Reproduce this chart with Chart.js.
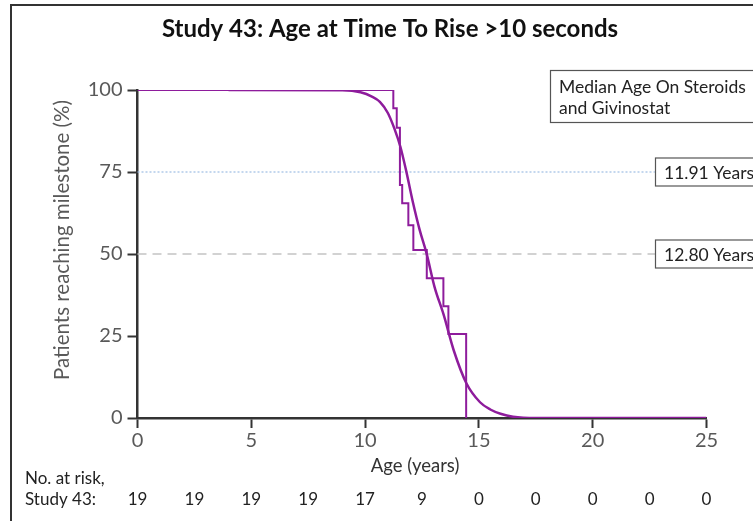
<!DOCTYPE html>
<html>
<head>
<meta charset="utf-8">
<script src="https://cdn.jsdelivr.net/npm/chart.js@4.4.0/dist/chart.umd.min.js"></script>
<style>
  html, body { margin: 0; padding: 0; background: #fff; }
  #wrap { width: 753px; height: 521px; }
</style>
</head>
<body>
<div id="wrap"><canvas id="km"></canvas></div>
<script>
// Kaplan-Meier steps (age in years, % reaching milestone)
const stepAge = [0, 11.24, 11.39, 11.53, 11.63, 11.90, 12.12, 12.71, 13.44, 13.66, 14.44];
const stepPct = [100, 94.4, 88.5, 71.0, 65.5, 58.8, 51.2, 42.6, 34.1, 25.6, 0];

// fitted curve
const curveAge = [4, 9, 9.8, 10.3, 10.65, 11.0, 11.3, 11.55, 11.8, 12.1, 12.4, 12.7, 13.05, 13.45, 13.9, 14.45, 15.05, 15.5, 15.95, 16.5, 17.5, 25];
const curvePct = [100, 99.9, 99.3, 98, 96.4, 93, 88, 82.7, 75.5, 65.8, 57.3, 50.2, 40, 31.5, 20.5, 10.6, 4.8, 2.6, 1.3, 0.4, 0, 0];

const medianPct = [75, 50];
const medianLabels = ["11.91 Years", "12.80 Years"];

const atRiskAge = [0, 2.5, 5, 7.5, 10, 12.5, 15, 17.5, 20, 22.5, 25];
const atRiskCount = [19, 19, 19, 19, 17, 9, 0, 0, 0, 0, 0];

const purple = "#8e1c9c";
const font = "Lato, 'Open Sans', sans-serif";

function pts(xs, ys) {
    let out = [];
    for (let i = 0; i < xs.length; i++) out.push({x: xs[i], y: ys[i]});
    return out;
}

const decor = {
    id: "decor",
    beforeDatasetsDraw(chart) {
        const ctx = chart.ctx;
        const area = chart.chartArea;
        const y = chart.scales.y;
        ctx.save();
        // median reference lines
        ctx.lineWidth = 1.2;
        ctx.strokeStyle = "#9dbde3";
        ctx.setLineDash([2, 2]);
        ctx.beginPath();
        ctx.moveTo(area.left, y.getPixelForValue(medianPct[0]));
        ctx.lineTo(655, y.getPixelForValue(medianPct[0]));
        ctx.stroke();
        ctx.strokeStyle = "#c4c4c4";
        ctx.lineWidth = 1.5;
        ctx.setLineDash([9, 6]);
        ctx.beginPath();
        ctx.moveTo(area.left, y.getPixelForValue(medianPct[1]));
        ctx.lineTo(655, y.getPixelForValue(medianPct[1]));
        ctx.stroke();
        ctx.restore();
    },
    afterDraw(chart) {
        const ctx = chart.ctx;
        const x = chart.scales.x;
        const y = chart.scales.y;
        ctx.save();
        // outer frame
        ctx.strokeStyle = "#333";
        ctx.lineWidth = 2;
        ctx.beginPath();
        ctx.moveTo(11, 530);
        ctx.lineTo(11, 5);
        ctx.lineTo(760, 5);
        ctx.stroke();

        // title
        ctx.fillStyle = "#111";
        ctx.font = "bold 24px " + font;
        ctx.textAlign = "center";
        ctx.textBaseline = "middle";
        ctx.fillText("Study 43: Age at Time To Rise >10 seconds", 390, 29);

        // axis titles
        ctx.fillStyle = "#595959";
        ctx.font = "20.5px " + font;
        ctx.save();
        ctx.translate(62, 240);
        ctx.rotate(-Math.PI / 2);
        ctx.fillText("Patients reaching milestone (%)", 0, 0);
        ctx.restore();
        ctx.fillStyle = "#333";
        ctx.font = "18.5px " + font;
        ctx.fillText("Age (years)", 415, 466);

        // legend box
        ctx.fillStyle = "#fff";
        ctx.fillRect(550, 70, 220, 52);
        ctx.strokeStyle = "#555";
        ctx.lineWidth = 1.2;
        ctx.strokeRect(550.5, 70.5, 220, 52);
        ctx.fillStyle = "#222";
        ctx.font = "17.5px " + font;
        ctx.textAlign = "left";
        ctx.fillText("Median Age On Steroids", 559, 87);
        ctx.fillText("and Givinostat", 559, 108);

        // median boxes
        for (let i = 0; i < medianPct.length; i++) {
            const cy = y.getPixelForValue(medianPct[i]);
            ctx.fillStyle = "#fff";
            ctx.fillRect(655, cy - 14, 110, 28);
            ctx.strokeStyle = "#555";
            ctx.strokeRect(655.5, cy - 14, 110, 28);
            ctx.fillStyle = "#222";
            ctx.fillText(medianLabels[i], 664, cy + 1);
        }

        // number at risk
        ctx.fillStyle = "#222";
        ctx.font = "17px " + font;
        ctx.fillText("No. at risk,", 25, 479);
        ctx.fillText("Study 43:", 25, 500);
        ctx.textAlign = "center";
        for (let i = 0; i < atRiskAge.length; i++) {
            ctx.fillText(String(atRiskCount[i]), x.getPixelForValue(atRiskAge[i]), 500);
        }
        ctx.restore();
    }
};

new Chart(document.getElementById("km"), {
    type: "line",
    data: {
        datasets: [
            {
                label: "Study 43",
                data: pts(stepAge, stepPct),
                stepped: "before",
                borderColor: purple,
                borderWidth: 2,
                pointRadius: 0,
                fill: false
            },
            {
                label: "Fit",
                data: pts(curveAge, curvePct),
                cubicInterpolationMode: "monotone",
                borderColor: purple,
                borderWidth: 2.5,
                pointRadius: 0,
                fill: false
            }
        ]
    },
    options: {
        responsive: true,
        maintainAspectRatio: false,
        animation: false,
        layout: { padding: { top: 90, right: 46.5, left: 0, bottom: 0 } },
        plugins: { legend: { display: false }, tooltip: { enabled: false } },
        scales: {
            x: {
                type: "linear",
                min: 0, max: 25,
                afterFit: (s) => { s.height = 103; },
                ticks: { stepSize: 5, color: "#595959", font: { family: font, size: 20 }, padding: 1, maxRotation: 0 },
                grid: { drawOnChartArea: false, tickLength: 10, tickColor: "#333", tickWidth: 2 },
                border: { color: "#333", width: 2.5 }
            },
            y: {
                min: 0, max: 100,
                afterFit: (s) => { s.width = 137.5; },
                ticks: { stepSize: 25, color: "#595959", font: { family: font, size: 20 }, padding: 5 },
                grid: { drawOnChartArea: false, tickLength: 10, tickColor: "#333", tickWidth: 2 },
                border: { color: "#333", width: 2.5 }
            }
        }
    },
    plugins: [decor]
});
</script>
</body>
</html>
